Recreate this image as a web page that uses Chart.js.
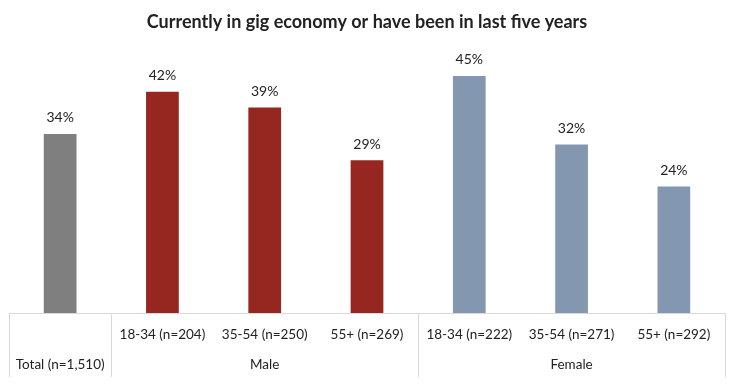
<!DOCTYPE html>
<html>
<head>
<meta charset="utf-8">
<script src="https://cdn.jsdelivr.net/npm/chart.js@4"></script>
<style>
  html, body { margin: 0; padding: 0; background: #fff; }
  #wrap { width: 741px; height: 391px; position: relative; }
</style>
</head>
<body>
<div id="wrap"><canvas id="chart"></canvas></div>
<script>
// Data
const subLabels = ['', '18-34 (n=204)', '35-54 (n=250)', '55+ (n=269)', '18-34 (n=222)', '35-54 (n=271)', '55+ (n=292)'];
const groupLabels = ['Total (n=1,510)', '', 'Male', '', '', 'Female', ''];
const values = [34, 42, 39, 29, 45, 32, 24];
const barColors = ['#7f7f7f', '#962720', '#962720', '#962720', '#8497b0', '#8497b0', '#8497b0'];
// table dividers sit between these category slots
const dividers = [-0.5, 0.5, 3.5, 6.5];

const FONT = 'Lato, "Open Sans", sans-serif';
const TEXT = '#222';
const LINE = '#d9d9d9';

// percentage labels above the bars
const valueLabels = {
  id: 'valueLabels',
  afterDatasetsDraw(chart) {
    const ctx = chart.ctx;
    const meta = chart.getDatasetMeta(0);
    ctx.save();
    ctx.font = '14px ' + FONT;
    ctx.fillStyle = TEXT;
    ctx.textAlign = 'center';
    ctx.textBaseline = 'bottom';
    meta.data.forEach((bar, i) => {
      ctx.fillText(values[i] + '%', bar.x, bar.y - 9);
    });
    ctx.restore();
  }
};

// vertical lines of the category table under the plot
const tableLines = {
  id: 'tableLines',
  afterDraw(chart) {
    const x = chart.scales.x;
    const ctx = chart.ctx;
    const top = chart.chartArea.bottom;
    ctx.save();
    ctx.strokeStyle = LINE;
    ctx.lineWidth = 1;
    dividers.forEach(d => {
      const px = Math.round(x.getPixelForValue(d)) + 0.5;
      ctx.beginPath();
      ctx.moveTo(px, top);
      ctx.lineTo(px, top + 64);
      ctx.stroke();
    });
    ctx.restore();
  }
};

new Chart(document.getElementById('chart'), {
  type: 'bar',
  data: {
    labels: subLabels,
    datasets: [{
      data: values,
      backgroundColor: barColors,
      borderWidth: 0,
      barPercentage: 0.32,
      categoryPercentage: 1
    }]
  },
  options: {
    responsive: true,
    maintainAspectRatio: false,
    animation: false,
    layout: { padding: { left: 9, right: 16, top: 0, bottom: 0 } },
    plugins: {
      legend: { display: false },
      tooltip: { enabled: false },
      title: {
        display: true,
        text: 'Currently in gig economy or have been in last five years',
        color: TEXT,
        font: { family: FONT, size: 18, weight: 'bold' },
        padding: { top: 11, bottom: 17 }
      }
    },
    scales: {
      y: { display: false, min: 0, max: 50 },
      x: {
        position: 'bottom',
        grid: { display: false, drawTicks: false },
        border: { display: true, color: LINE },
        ticks: { color: TEXT, font: { family: FONT, size: 13.5 }, padding: 14, maxRotation: 0, autoSkip: false },
        afterFit: s => { s.height = 34; }
      },
      x2: {
        type: 'category',
        labels: groupLabels,
        position: 'bottom',
        grid: { display: false, drawTicks: false },
        border: { display: false },
        ticks: { color: TEXT, font: { family: FONT, size: 13.5 }, padding: 10, maxRotation: 0, autoSkip: false },
        afterFit: s => { s.height = 44; }
      }
    }
  },
  plugins: [valueLabels, tableLines]
});
</script>
</body>
</html>
